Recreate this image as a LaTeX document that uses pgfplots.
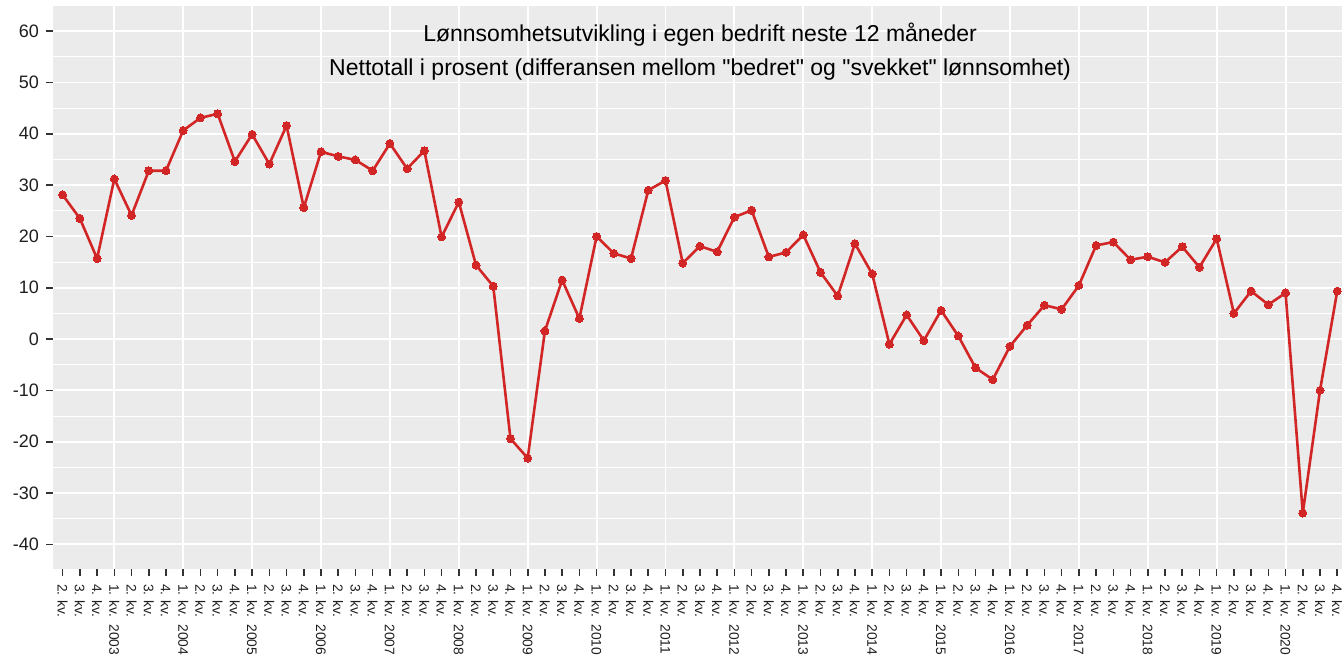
\documentclass[border=0pt]{standalone}
\usepackage{fontspec}
\setmainfont{Liberation Sans}[Ligatures=TeXOff]
\usepackage{pgfplots}
\pgfplotsset{compat=1.18}
\definecolor{panelbg}{RGB}{235,235,235}
\definecolor{linered}{RGB}{210,38,38}
\definecolor{tickcol}{RGB}{51,51,51}
\definecolor{labcol}{RGB}{30,30,30}
\newcommand{\yl}[1]{1. kv.\hspace{7pt}#1}
\pgfplotstableread{
idx val
1 28.1
2 23.5
3 15.7
4 31.2
5 24.1
6 32.8
7 32.8
8 40.65
9 43.1
10 43.9
11 34.6
12 39.9
13 34.1
14 41.6
15 25.6
16 36.5
17 35.6
18 34.9
19 32.8
20 38.1
21 33.2
22 36.7
23 19.9
24 26.7
25 14.4
26 10.3
27 -19.4
28 -23.2
29 1.6
30 11.5
31 4.0
32 20.0
33 16.7
34 15.7
35 29.0
36 30.9
37 14.8
38 18.1
39 17.0
40 23.75
41 25.1
42 16.0
43 16.9
44 20.3
45 13.0
46 8.4
47 18.6
48 12.7
49 -1.0
50 4.7
51 -0.3
52 5.6
53 0.6
54 -5.6
55 -7.9
56 -1.4
57 2.7
58 6.6
59 5.8
60 10.45
61 18.25
62 18.9
63 15.45
64 16.05
65 14.95
66 18.0
67 14.0
68 19.55
69 5.0
70 9.35
71 6.7
72 9.0
73 -33.9
74 -10.0
75 9.35
}\datatable
\begin{document}
\begin{tikzpicture}
\begin{axis}[
  at={(53pt,85pt)}, anchor=south west,
  scale only axis, width=1289pt, height=563pt,
  xmin=0.44, xmax=75.28, ymin=-44.8, ymax=64.9,
  axis background/.style={fill=panelbg},
  axis line style={draw=none},
  xtick={1,...,75},
  xticklabels={2. kv.,3. kv.,4. kv.,
    \yl{2003},2. kv.,3. kv.,4. kv.,
    \yl{2004},2. kv.,3. kv.,4. kv.,
    \yl{2005},2. kv.,3. kv.,4. kv.,
    \yl{2006},2. kv.,3. kv.,4. kv.,
    \yl{2007},2. kv.,3. kv.,4. kv.,
    \yl{2008},2. kv.,3. kv.,4. kv.,
    \yl{2009},2. kv.,3. kv.,4. kv.,
    \yl{2010},2. kv.,3. kv.,4. kv.,
    \yl{2011},2. kv.,3. kv.,4. kv.,
    \yl{2012},2. kv.,3. kv.,4. kv.,
    \yl{2013},2. kv.,3. kv.,4. kv.,
    \yl{2014},2. kv.,3. kv.,4. kv.,
    \yl{2015},2. kv.,3. kv.,4. kv.,
    \yl{2016},2. kv.,3. kv.,4. kv.,
    \yl{2017},2. kv.,3. kv.,4. kv.,
    \yl{2018},2. kv.,3. kv.,4. kv.,
    \yl{2019},2. kv.,3. kv.,4. kv.,
    \yl{2020},2. kv.,3. kv.,4. kv.},
  minor xtick={4,8,...,72},
  ytick={-40,-30,...,60},
  minor ytick={-45,-35,...,65},
  xmajorgrids=false, xminorgrids=true, ymajorgrids=true, yminorgrids=true,
  major grid style={white, line width=1.9pt},
  minor grid style={white, line width=1.0pt},
  minor x grid style={white, line width=1.9pt},
  tick align=outside, tick pos=left,
  major tick length=7pt, minor tick length=0pt,
  tick style={tickcol, line width=1.6pt},
  xticklabel shift=8pt, yticklabel shift=7pt,
  xticklabel style={rotate=-90, anchor=west, font=\fontsize{13.8}{14}\selectfont, text=labcol, inner sep=0pt},
  yticklabel style={font=\fontsize{18}{20}\selectfont, text=labcol, inner sep=0pt},
  /pgf/number format/assume math mode=true,
  clip=true,
]
\addplot[color=linered, line width=2.6pt, line join=round, mark=*, mark size=4pt, mark options={fill=linered, draw=linered, line width=0pt}] table[x=idx, y=val] {\datatable};
\node[font=\fontsize{23}{26}\selectfont, anchor=base, text=black] at (rel axis cs:0.502,0.9378) {Lønnsomhetsutvikling i egen bedrift neste 12 måneder};
\node[font=\fontsize{23}{26}\selectfont, anchor=base, text=black] at (rel axis cs:0.502,0.8774) {Nettotall i prosent (differansen mellom "bedret" og "svekket" lønnsomhet)};
\end{axis}
\pgfresetboundingbox
\useasboundingbox (0,0) rectangle (1342pt,654pt);
\end{tikzpicture}
\end{document}
